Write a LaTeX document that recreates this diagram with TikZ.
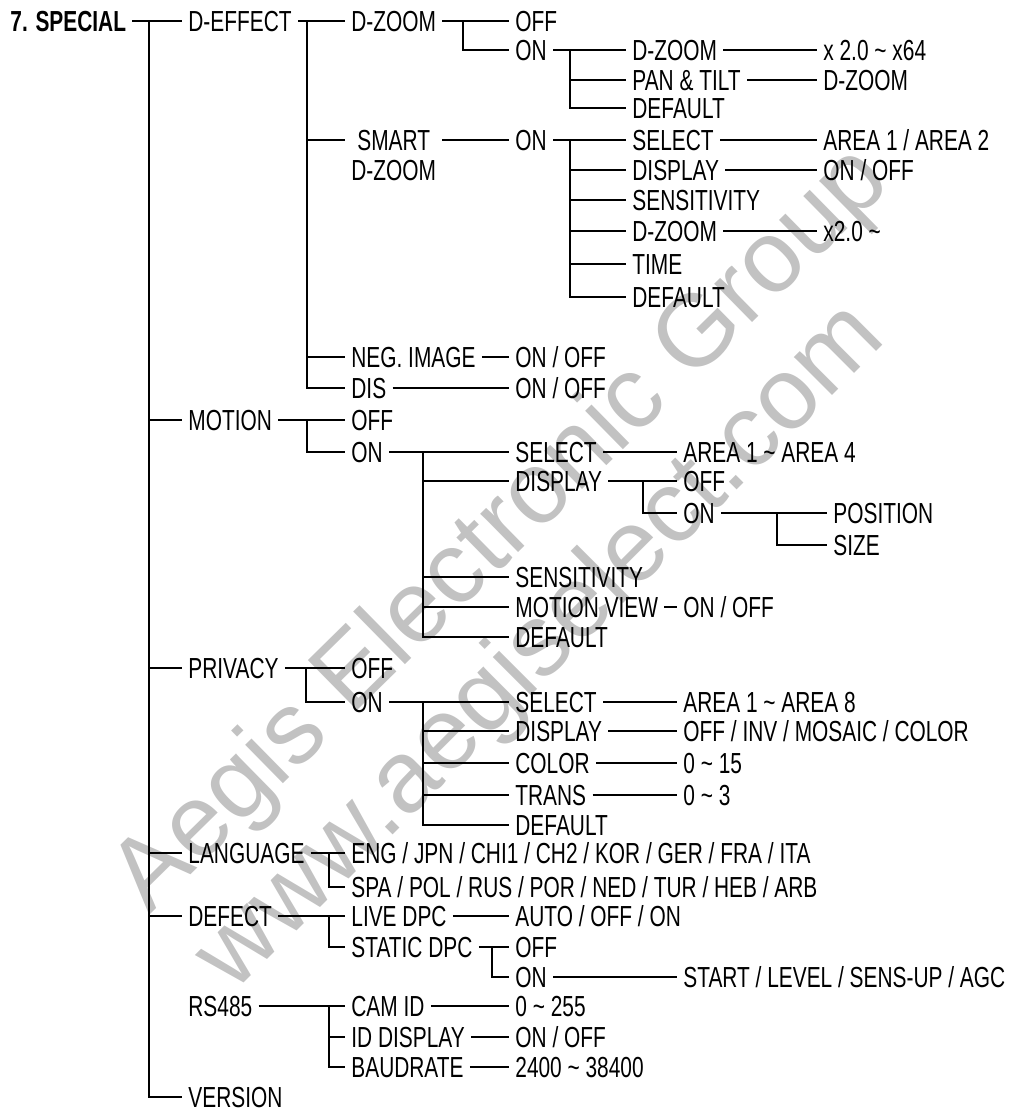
\documentclass[tikz,border=0pt]{standalone}
\usepackage{fontspec}
\setmainfont[FakeStretch=0.72]{Liberation Sans}
\newfontfamily\wmfont{Liberation Sans}
\usetikzlibrary{calc}
\definecolor{wmgray}{HTML}{C2C2C2}
\tikzset{
  ln/.style={draw=black,line width=1pt},
  itm/.style={font=\fontsize{14.5}{15}\selectfont,inner xsep=3pt,inner ysep=0pt,text height=10pt,text depth=0pt,anchor=west},
  itmtwo/.style={font=\fontsize{14.5}{15}\selectfont,inner xsep=3pt,inner ysep=0pt,align=center,anchor=north west},
  wm/.style={font=\wmfont\fontsize{51}{51}\selectfont,text=wmgray,inner sep=0pt},
}
\begin{document}
\begin{tikzpicture}[x=0.5pt,y=-0.5pt]
\useasboundingbox (0,0) rectangle (1015,1109);
% watermark
\node[wm,rotate=44.5] (wmone) at (503,531) {Aegis Electronic Group};
\node[wm,rotate=45] (wmtwo) at (542,648) {www.aegiselect.com};
% root and first level
\node[itm,font=\bfseries\fontsize{14.5}{15}\selectfont] (special) at (4,21) {7. SPECIAL};
\node[itm] (deffect) at (182,21) {D-EFFECT};
\node[itm] (motion) at (182,420) {MOTION};
\node[itm] (privacy) at (182,668) {PRIVACY};
\node[itm] (language) at (182,853) {LANGUAGE};
\node[itm] (defect) at (182,916) {DEFECT};
\node[itm] (rsfour) at (182,1006) {RS485};
\node[itm] (version) at (182,1097) {VERSION};
% D-EFFECT
\node[itm] (dzoom) at (345,21) {D-ZOOM};
\node[itmtwo] (smart) at (345,130) {SMART\\D-ZOOM};
\node[itm] (neg) at (345,357) {NEG. IMAGE};
\node[itm] (dis) at (345,388) {DIS};
\node[itm] (dzoff) at (509,21) {OFF};
\node[itm] (dzon) at (509,50) {ON};
\node[itm] (smon) at (509,140) {ON};
\node[itm] (negv) at (509,357) {ON / OFF};
\node[itm] (disv) at (509,388) {ON / OFF};
\node[itm] (zsub) at (626,50) {D-ZOOM};
\node[itm] (pan) at (626,80) {PAN \& TILT};
\node[itm] (zdef) at (626,108) {DEFAULT};
\node[itm] (ssel) at (626,140) {SELECT};
\node[itm] (sdisp) at (626,170) {DISPLAY};
\node[itm] (ssens) at (626,200) {SENSITIVITY};
\node[itm] (szoom) at (626,231) {D-ZOOM};
\node[itm] (stime) at (626,264) {TIME};
\node[itm] (sdef) at (626,297) {DEFAULT};
\node[itm] (zsubv) at (817,50) {x 2.0 \char`\~{} x64};
\node[itm] (panv) at (817,80) {D-ZOOM};
\node[itm] (sselv) at (817,140) {AREA 1 / AREA 2};
\node[itm] (sdispv) at (817,170) {ON / OFF};
\node[itm] (szoomv) at (817,231) {x2.0 \char`\~};
% MOTION
\node[itm] (motoff) at (345,420) {OFF};
\node[itm] (moton) at (345,452) {ON};
\node[itm] (msel) at (509,452) {SELECT};
\node[itm] (mdisp) at (509,481) {DISPLAY};
\node[itm] (msens) at (509,577) {SENSITIVITY};
\node[itm] (mview) at (509,607) {MOTION VIEW};
\node[itm] (mdef) at (509,637) {DEFAULT};
\node[itm] (mselv) at (677,452) {AREA 1 \char`\~{} AREA 4};
\node[itm] (mdoff) at (677,481) {OFF};
\node[itm] (mdon) at (677,513) {ON};
\node[itm] (mviewv) at (677,607) {ON / OFF};
\node[itm] (pos) at (827,513) {POSITION};
\node[itm] (size) at (827,545) {SIZE};
% PRIVACY
\node[itm] (prioff) at (345,668) {OFF};
\node[itm] (prion) at (345,702) {ON};
\node[itm] (psel) at (509,702) {SELECT};
\node[itm] (pdisp) at (509,731) {DISPLAY};
\node[itm] (pcol) at (509,763) {COLOR};
\node[itm] (ptrans) at (509,795) {TRANS};
\node[itm] (pdef) at (509,825) {DEFAULT};
\node[itm] (pselv) at (677,702) {AREA 1 \char`\~{} AREA 8};
\node[itm] (pdispv) at (677,731) {OFF / INV / MOSAIC / COLOR};
\node[itm] (pcolv) at (677,763) {0 \char`\~{} 15};
\node[itm] (ptransv) at (677,795) {0 \char`\~{} 3};
% LANGUAGE, DEFECT, RS485
\node[itm] (eng) at (345,853) {ENG / JPN / CHI1 / CH2 / KOR / GER / FRA / ITA};
\node[itm] (spa) at (345,887) {SPA / POL / RUS / POR / NED / TUR / HEB / ARB};
\node[itm] (live) at (345,916) {LIVE DPC};
\node[itm] (static) at (345,947) {STATIC DPC};
\node[itm] (livev) at (509,916) {AUTO / OFF / ON};
\node[itm] (stoff) at (509,947) {OFF};
\node[itm] (ston) at (509,977) {ON};
\node[itm] (stonv) at (677,977) {START / LEVEL / SENS-UP / AGC};
\node[itm] (camid) at (345,1006) {CAM ID};
\node[itm] (iddisp) at (345,1037) {ID DISPLAY};
\node[itm] (baud) at (345,1067) {BAUDRATE};
\node[itm] (camv) at (509,1006) {0 \char`\~{} 255};
\node[itm] (idv) at (509,1037) {ON / OFF};
\node[itm] (baudv) at (509,1067) {2400 \char`\~{} 38400};
% junctions
\coordinate (jroot) at (149,21);
\coordinate (jdeff) at (307,21);
\coordinate (jdz) at (463,21);
\coordinate (jdzon) at (570,50);
\coordinate (jsmon) at (570,140);
\coordinate (jmot) at (307,420);
\coordinate (jmon) at (423,452);
\coordinate (jmdisp) at (643,481);
\coordinate (jmdon) at (777,513);
\coordinate (jpri) at (306,668);
\coordinate (jpon) at (423,702);
\coordinate (jlang) at (329,853);
\coordinate (jdef) at (329,916);
\coordinate (jst) at (492,947);
\coordinate (jrs) at (329,1006);
% connectors
\draw[ln] (special.east) -- (deffect.west); \draw[ln] (jroot) |- (version.west);
\foreach \n in {motion,privacy,language,defect} \draw[ln] (jroot) |- (\n.west);
\draw[ln] (deffect.east) -- (dzoom.west);
\foreach \n in {neg,dis} \draw[ln] (jdeff) |- (\n.west);
\draw[ln] (jdeff) |- (smart.west |- smon.west); \draw[ln] (smart.east |- smon.west) -- (smon.west);
\draw[ln] (dzoom.east) -- (dzoff.west); \draw[ln] (jdz) |- (dzon.west);
\draw[ln] (dzon.east) -- (zsub.west);
\foreach \n in {pan,zdef} \draw[ln] (jdzon) |- (\n.west);
\draw[ln] (zsub.east) -- (zsubv.west); \draw[ln] (pan.east) -- (panv.west);
\draw[ln] (smon.east) -- (ssel.west);
\foreach \n in {sdisp,ssens,szoom,stime,sdef} \draw[ln] (jsmon) |- (\n.west);
\draw[ln] (ssel.east) -- (sselv.west); \draw[ln] (sdisp.east) -- (sdispv.west); \draw[ln] (szoom.east) -- (szoomv.west);
\draw[ln] (neg.east) -- (negv.west); \draw[ln] (dis.east) -- (disv.west);
\draw[ln] (motion.east) -- (motoff.west); \draw[ln] (jmot) |- (moton.west);
\draw[ln] (moton.east) -- (msel.west);
\foreach \n in {mdisp,msens,mview,mdef} \draw[ln] (jmon) |- (\n.west);
\draw[ln] (msel.east) -- (mselv.west); \draw[ln] (mdisp.east) -- (mdoff.west); \draw[ln] (jmdisp) |- (mdon.west);
\draw[ln] (mdon.east) -- (pos.west); \draw[ln] (jmdon) |- (size.west);
\draw[ln] (mview.east) -- (mviewv.west);
\draw[ln] (privacy.east) -- (prioff.west); \draw[ln] (jpri) |- (prion.west);
\draw[ln] (prion.east) -- (psel.west);
\foreach \n in {pdisp,pcol,ptrans,pdef} \draw[ln] (jpon) |- (\n.west);
\draw[ln] (psel.east) -- (pselv.west); \draw[ln] (pdisp.east) -- (pdispv.west);
\draw[ln] (pcol.east) -- (pcolv.west); \draw[ln] (ptrans.east) -- (ptransv.west);
\draw[ln] (language.east) -- (eng.west); \draw[ln] (jlang) |- (spa.west);
\draw[ln] (defect.east) -- (live.west); \draw[ln] (jdef) |- (static.west);
\draw[ln] (live.east) -- (livev.west);
\draw[ln] (static.east) -- (stoff.west); \draw[ln] (jst) |- (ston.west);
\draw[ln] (ston.east) -- (stonv.west);
\draw[ln] (rsfour.east) -- (camid.west);
\foreach \n in {iddisp,baud} \draw[ln] (jrs) |- (\n.west);
\draw[ln] (camid.east) -- (camv.west); \draw[ln] (iddisp.east) -- (idv.west); \draw[ln] (baud.east) -- (baudv.west);
\end{tikzpicture}
\end{document}
